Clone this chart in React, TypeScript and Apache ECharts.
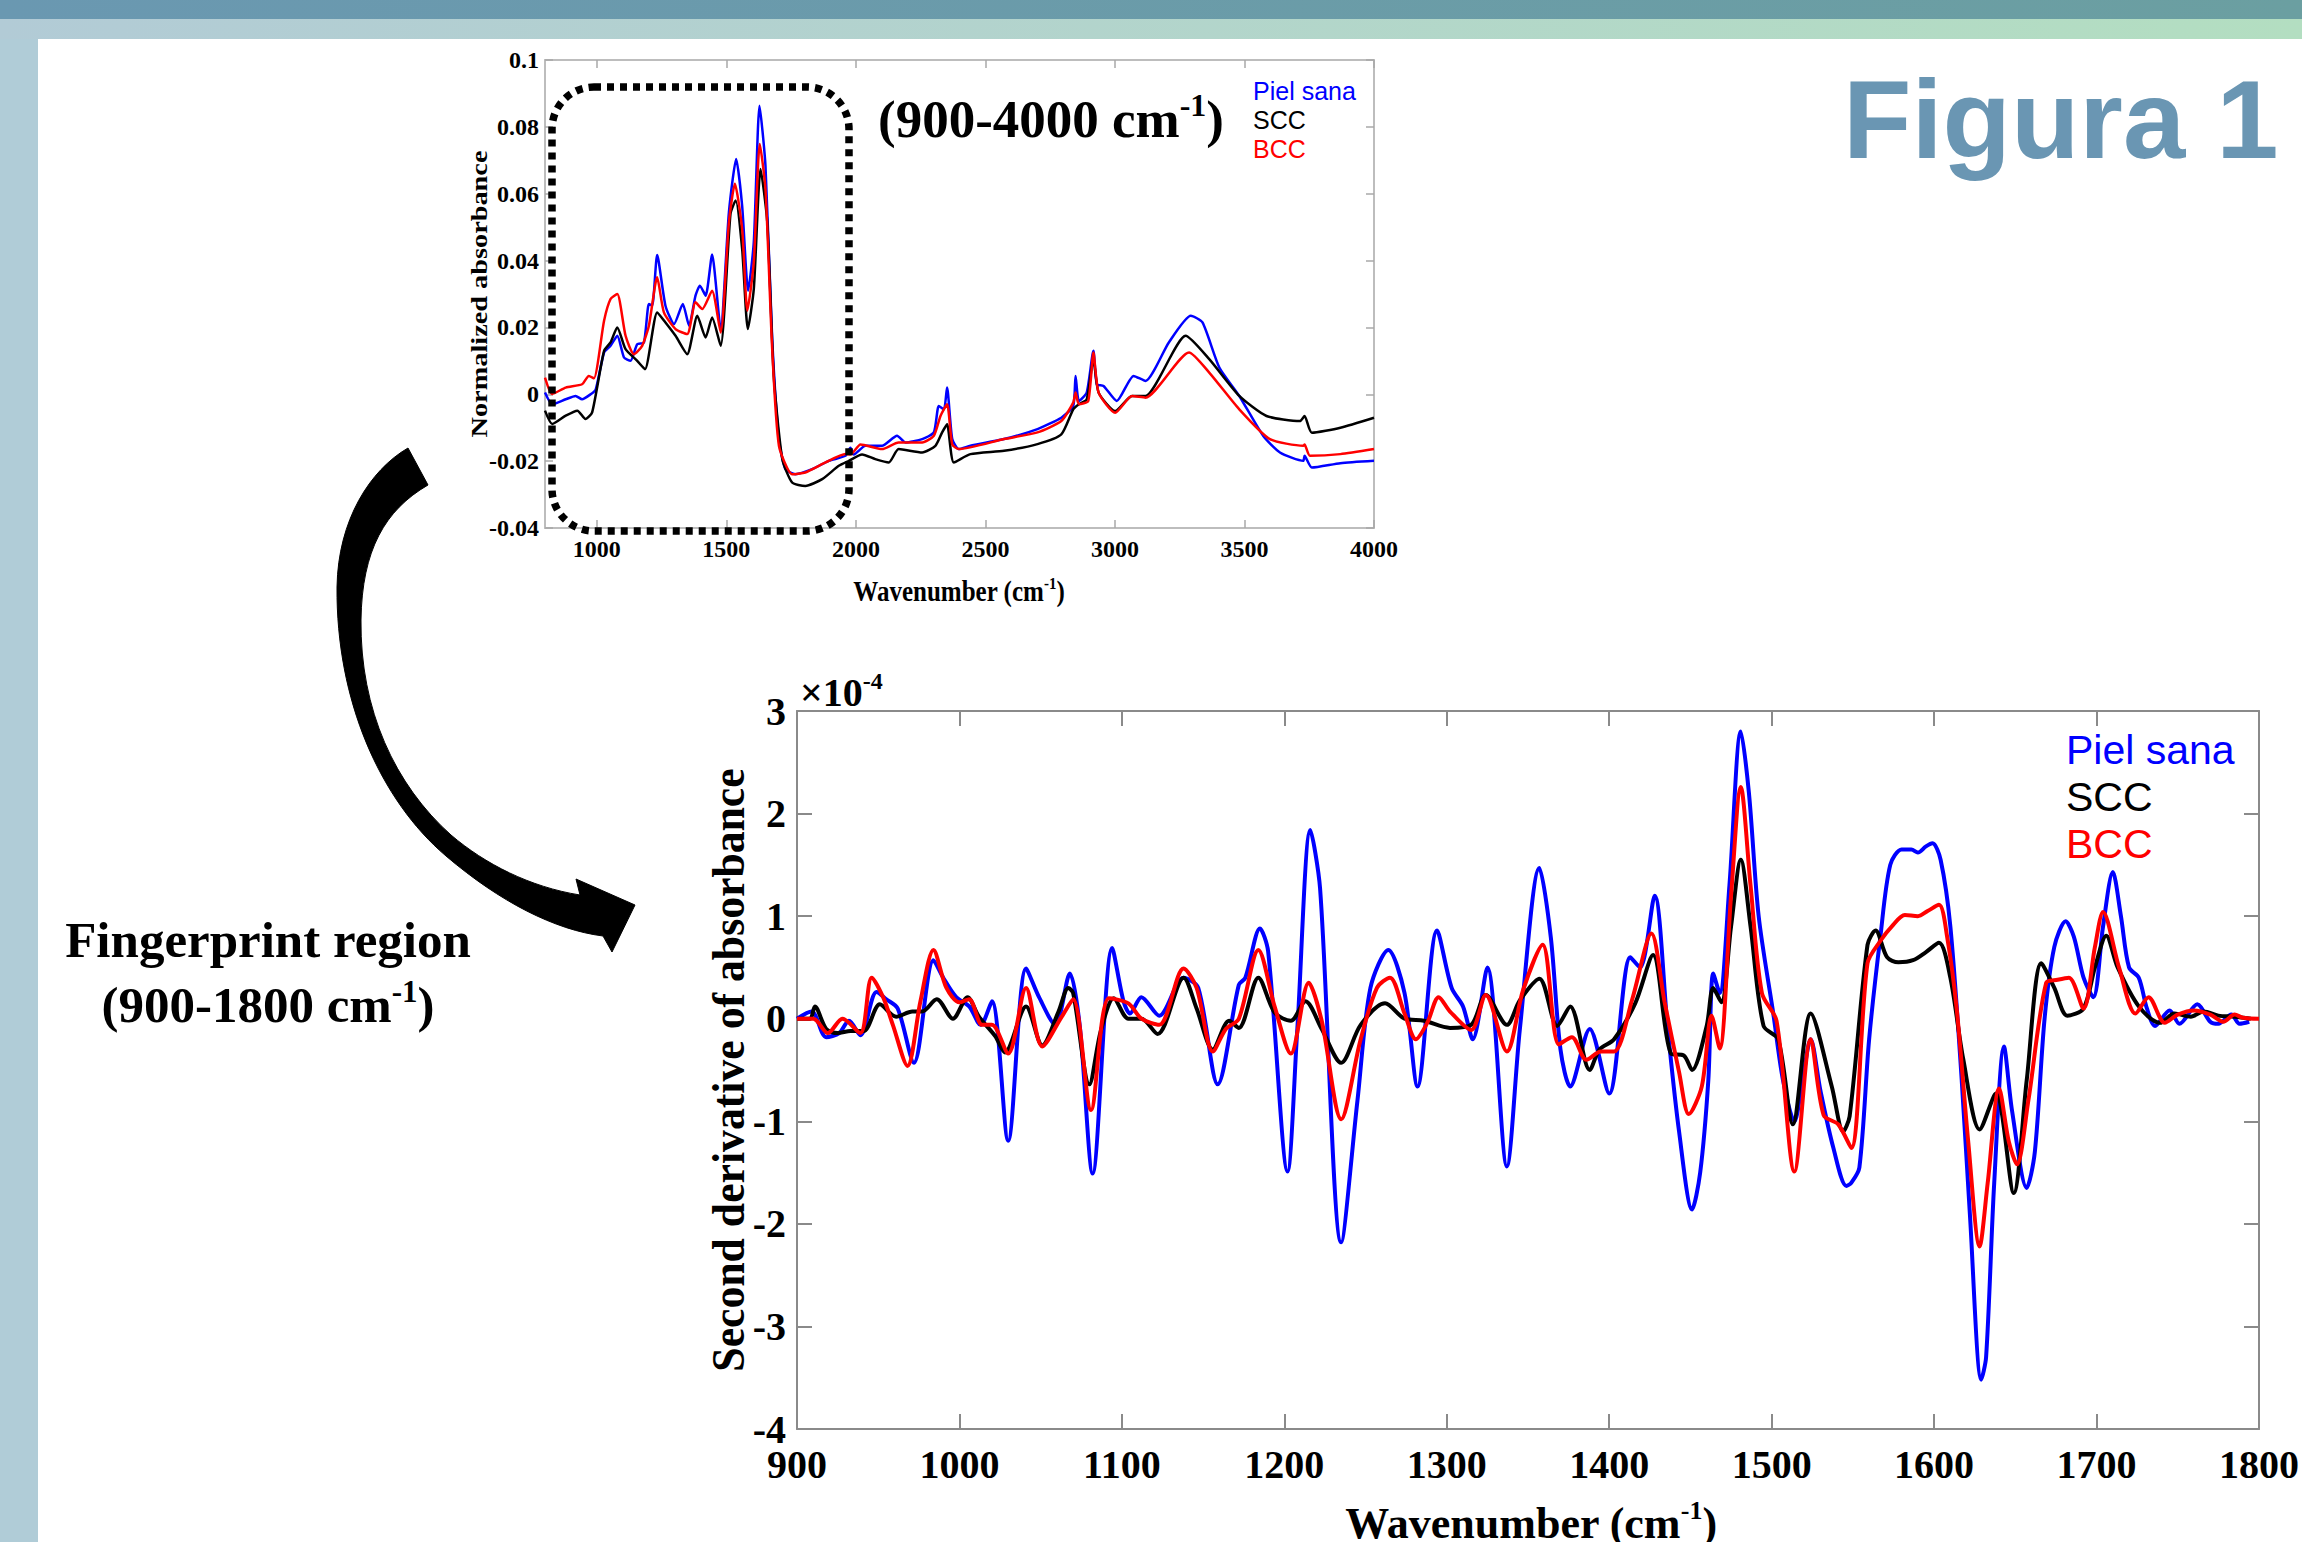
import React, { useEffect, useRef } from "react";
import * as echarts from "echarts";

const W = 2302;
const H = 1542;

// ---------- Data: full spectrum (900-4000 cm-1), normalized absorbance ----------
const fullPielSana = [
  [800, 0.0005], [828, -0.003], [880, -0.0015], [918, -0.0005], [943, -0.0015], [976, 0], [996, 0.0015],
  [1028, 0.0125], [1053, 0.0145], [1079, 0.0175], [1105, 0.011], [1130, 0.01], [1156, 0.015], [1182, 0.0155],
  [1201, 0.027], [1214, 0.0265], [1233, 0.0417], [1265, 0.0265], [1298, 0.021], [1332, 0.027], [1356, 0.0205],
  [1381, 0.0295], [1398, 0.0325], [1420, 0.0295], [1445, 0.0418], [1478, 0.0195], [1510, 0.0545], [1538, 0.0704],
  [1561, 0.0564], [1584, 0.031], [1606, 0.0455], [1628, 0.0863], [1651, 0.0684], [1677, 0.0165], [1703, -0.0134],
  [1728, -0.0224], [1767, -0.0239], [1831, -0.0224], [1896, -0.0199], [1960, -0.0184], [1979, -0.016], [1992, -0.018],
  [2037, -0.0154], [2101, -0.0154], [2159, -0.0124], [2191, -0.0144], [2256, -0.0134], [2301, -0.0114], [2320, -0.0035],
  [2340, -0.0045], [2352, 0.002], [2372, -0.0134], [2397, -0.0164], [2442, -0.0154], [2572, -0.0134], [2701, -0.0104],
  [2793, -0.007], [2839, -0.0035], [2848, 0.0055], [2861, -0.002], [2891, 0.0005], [2917, 0.013], [2930, 0.003],
  [2956, 0.0025], [3007, -0.002], [3072, 0.0055], [3118, 0.004], [3208, 0.0155], [3293, 0.0235], [3338, 0.0215],
  [3403, 0.008], [3480, -0.0005], [3572, -0.0124], [3637, -0.0174], [3727, -0.0199], [3732, -0.0184], [3760, -0.0219],
  [3870, -0.0206], [4000, -0.0199],
];
const fullSCC = [
  [800, -0.0049], [828, -0.0089], [880, -0.0064], [925, -0.0049], [956, -0.0074], [982, -0.0054], [1028, 0.013],
  [1053, 0.0155], [1079, 0.02], [1111, 0.0135], [1156, 0.01], [1186, 0.0075], [1233, 0.0245], [1265, 0.0215],
  [1304, 0.0175], [1349, 0.012], [1388, 0.0235], [1420, 0.017], [1445, 0.023], [1478, 0.0145], [1516, 0.054],
  [1536, 0.058], [1561, 0.0435], [1583, 0.0195], [1606, 0.0315], [1632, 0.0674], [1658, 0.0515], [1683, 0.0055],
  [1716, -0.0194], [1754, -0.0264], [1805, -0.0274], [1870, -0.0254], [1934, -0.0214], [1973, -0.0199], [2024, -0.018],
  [2075, -0.0194], [2127, -0.0204], [2165, -0.0164], [2256, -0.0174], [2307, -0.0154], [2333, -0.0114], [2352, -0.009],
  [2378, -0.0204], [2442, -0.0179], [2572, -0.0169], [2701, -0.0149], [2793, -0.012], [2839, -0.0045], [2861, -0.003],
  [2891, -0.0015], [2917, 0.0105], [2937, 0.0005], [3001, -0.005], [3066, -0.0005], [3118, -0.0005], [3273, 0.0175],
  [3364, 0.0105], [3480, -0.0005], [3585, -0.0065], [3714, -0.008], [3732, -0.0065], [3760, -0.0115], [3870, -0.01],
  [4000, -0.007],
];
const fullBCC = [
  [800, 0.005], [828, 0.0001], [880, 0.002], [943, 0.003], [969, 0.0055], [989, 0.0048], [1028, 0.022],
  [1053, 0.0285], [1079, 0.03], [1111, 0.0175], [1143, 0.012], [1175, 0.0145], [1201, 0.0205], [1233, 0.035],
  [1259, 0.0245], [1304, 0.0195], [1349, 0.018], [1381, 0.0275], [1407, 0.0255], [1445, 0.031], [1478, 0.0185],
  [1510, 0.0515], [1533, 0.063], [1561, 0.0495], [1581, 0.025], [1606, 0.0395], [1629, 0.0749], [1651, 0.0614],
  [1677, 0.0135], [1703, -0.0154], [1754, -0.0239], [1805, -0.0234], [1883, -0.0204], [1960, -0.0179], [1979, -0.018],
  [2018, -0.015], [2101, -0.0164], [2165, -0.0144], [2256, -0.0144], [2301, -0.0124], [2327, -0.0064], [2352, -0.003],
  [2372, -0.015], [2397, -0.0164], [2572, -0.0134], [2701, -0.0114], [2793, -0.008], [2839, -0.0025], [2848, 0.0005],
  [2861, -0.003], [2897, -0.002], [2917, 0.0125], [2937, 0.0005], [3001, -0.0055], [3066, -0.0005], [3118, -0.001],
  [3286, 0.0125], [3364, 0.0065], [3480, -0.0045], [3598, -0.0134], [3727, -0.0154], [3732, -0.015], [3753, -0.0184],
  [3870, -0.0179], [4000, -0.0164],
];
const fullXTicks = [1000, 1500, 2000, 2500, 3000, 3500, 4000];

// ---------- Data: fingerprint region second derivative (x 1e-4) ----------
const fpPielSana = [
  [900, 0], [909, 0.07], [918, -0.18], [926, -0.14], [932, -0.02], [939, -0.16], [949, 0.26], [955, 0.19], [962, 0.1],
  [972, -0.43], [984, 0.57], [990, 0.4], [998, 0.21], [1006, 0.12], [1013, -0.06], [1020, 0.17], [1030, -1.19],
  [1041, 0.49], [1049, 0.21], [1059, -0.06], [1068, 0.44], [1074, -0.06], [1082, -1.51], [1094, 0.69], [1101, 0.17],
  [1105, 0.05], [1112, 0.21], [1123, 0.03], [1138, 0.4], [1147, 0.3], [1159, -0.64], [1172, 0.33], [1176, 0.4],
  [1185, 0.88], [1190, 0.66], [1202, -1.49], [1208, -0.1], [1216, 1.84], [1222, 1.27], [1235, -2.18], [1245, -0.8],
  [1253, 0.3], [1264, 0.67], [1274, 0.25], [1282, -0.66], [1294, 0.86], [1303, 0.3], [1310, 0.12], [1316, -0.2],
  [1325, 0.5], [1337, -1.44], [1345, -0.1], [1357, 1.47], [1364, 0.8], [1370, -0.3], [1376, -0.66], [1388, -0.1],
  [1400, -0.73], [1413, 0.6], [1419, 0.5], [1428, 1.2], [1436, -0.1], [1443, -1.1], [1451, -1.86], [1456, -1.5],
  [1461, -0.6], [1464, 0.44], [1468, 0.25], [1474, 1.3], [1481, 2.8], [1486, 2.2], [1492, 1.0], [1501, 0.05],
  [1507, -0.6], [1514, -1.0], [1519, -0.6], [1524, -0.2], [1530, -0.7], [1538, -1.26], [1546, -1.63], [1549, -1.6],
  [1554, -1.45], [1560, -0.2], [1567, 0.81], [1573, 1.5], [1580, 1.65], [1586, 1.65], [1590, 1.62], [1595, 1.68],
  [1599, 1.71], [1604, 1.55], [1610, 0.9], [1617, -0.6], [1622, -1.9], [1629, -3.52], [1632, -3.3], [1637, -1.6],
  [1643, -0.27], [1648, -0.9], [1657, -1.65], [1662, -1.3], [1668, 0.0], [1674, 0.7], [1681, 0.95], [1686, 0.8],
  [1692, 0.4], [1698, 0.21], [1704, 0.9], [1710, 1.43], [1715, 1.0], [1720, 0.5], [1726, 0.4], [1731, 0.1],
  [1736, -0.07], [1745, 0.08], [1751, -0.05], [1762, 0.14], [1770, -0.03], [1775, -0.05], [1783, 0.04], [1788, -0.05],
  [1794, -0.03],
];
const fpSCC = [
  [900, 0], [908, 0], [911, 0.12], [918, -0.1], [925, -0.14], [933, -0.12], [941, -0.12], [951, 0.14], [961, 0.02],
  [971, 0.07], [977, 0.07], [986, 0.19], [996, 0], [1005, 0.21], [1012, 0.02], [1022, -0.17], [1028, -0.33],
  [1041, 0.12], [1051, -0.26], [1061, 0.07], [1067, 0.3], [1070, 0.25], [1080, -0.64], [1087, -0.12], [1095, 0.2],
  [1104, 0], [1112, 0], [1122, -0.15], [1138, 0.4], [1146, 0.1], [1156, -0.3], [1166, -0.02], [1172, -0.09],
  [1184, 0.4], [1194, 0.06], [1204, -0.02], [1213, 0.17], [1223, -0.1], [1235, -0.43], [1247, -0.06], [1262, 0.15],
  [1274, 0], [1286, -0.02], [1302, -0.09], [1315, -0.06], [1324, 0.23], [1337, -0.06], [1345, 0.18], [1357, 0.39],
  [1368, -0.07], [1376, 0.12], [1388, -0.5], [1394, -0.3], [1403, -0.2], [1416, 0.15], [1427, 0.62], [1438, -0.34],
  [1446, -0.36], [1451, -0.5], [1460, -0.07], [1464, 0.3], [1469, 0.16], [1475, 0.9], [1481, 1.55], [1487, 0.9],
  [1495, -0.07], [1504, -0.2], [1513, -1.03], [1524, 0.05], [1537, -0.66], [1544, -1.1], [1548, -0.95], [1559, 0.72],
  [1564, 0.86], [1571, 0.6], [1578, 0.55], [1587, 0.57], [1595, 0.65], [1603, 0.74], [1610, 0.4], [1618, -0.4],
  [1628, -1.08], [1638, -0.73], [1649, -1.7], [1657, -0.6], [1666, 0.54], [1674, 0.3], [1682, 0.03], [1692, 0.1],
  [1699, 0.5], [1706, 0.81], [1713, 0.5], [1726, 0.12], [1739, -0.04], [1748, 0.05], [1758, 0.02], [1766, 0.07],
  [1775, 0.03], [1785, 0.02], [1795, 0],
];
const fpBCC = [
  [900, 0], [910, 0], [919, -0.14], [928, 0], [939, -0.14], [946, 0.4], [953, 0.21], [959, -0.06], [968, -0.46],
  [976, 0.17], [984, 0.67], [992, 0.3], [1000, 0.16], [1006, 0.19], [1014, -0.06], [1020, -0.06], [1030, -0.34],
  [1041, 0.3], [1051, -0.27], [1063, 0.02], [1070, 0.19], [1081, -0.89], [1092, 0.2], [1104, 0.15], [1112, 0],
  [1123, -0.06], [1138, 0.49], [1146, 0.3], [1156, -0.32], [1164, -0.1], [1172, 0], [1184, 0.67], [1194, 0.12],
  [1204, -0.34], [1215, 0.35], [1223, -0.02], [1235, -0.98], [1247, -0.2], [1257, 0.3], [1265, 0.4], [1274, 0.05],
  [1281, -0.2], [1288, -0.04], [1295, 0.21], [1302, 0.07], [1315, -0.11], [1324, 0.23], [1337, -0.32], [1347, 0.28],
  [1359, 0.72], [1369, -0.25], [1377, -0.18], [1386, -0.4], [1395, -0.32], [1403, -0.32], [1414, 0.18], [1426, 0.83],
  [1434, 0.17], [1443, -0.52], [1449, -0.93], [1457, -0.66], [1463, 0.03], [1468, -0.29], [1475, 1.2], [1481, 2.26],
  [1487, 1.3], [1494, 0.25], [1503, -0.02], [1514, -1.49], [1524, -0.2], [1532, -0.94], [1541, -1.03], [1549, -1.26],
  [1559, 0.54], [1567, 0.76], [1574, 0.9], [1582, 1.01], [1590, 1.0], [1596, 1.05], [1603, 1.11], [1608, 0.8],
  [1614, 0.08], [1621, -1.2], [1628, -2.22], [1633, -1.6], [1640, -0.68], [1646, -1.2], [1651, -1.42], [1658, -0.8],
  [1669, 0.35], [1676, 0.38], [1683, 0.4], [1692, 0.1], [1699, 0.7], [1704, 1.04], [1714, 0.49], [1724, 0.05],
  [1732, 0.21], [1742, -0.04], [1750, 0.04], [1760, 0.08], [1770, 0.04], [1778, -0.03], [1785, 0.04], [1790, 0.01],
  [1800, 0],
];

const seriesNames = ["Piel sana", "SCC", "BCC"];
const seriesColors = ["#0000ff", "#000000", "#ff0000"];

const SERIF = "'Liberation Serif', 'Times New Roman', serif";
const SANS = "'Liberation Sans', Arial, sans-serif";

// Curved arrow outline (drawn as a registered path shape)
const arrowD =
  "M408 448 C370 470 338 520 337 587 C336 700 380 800 446 856 C500 902 555 930 603 936 " +
  "L612 952 L635 905 L576 879 L580 895 C530 887 485 864 451 835 C395 785 360 710 361 620 " +
  "C362 550 385 510 428 485 Z";
echarts.graphic.registerShape("fpArrow", echarts.graphic.extendPath(arrowD, {}));

function supRich(F: number) {
  return {
    b: { fontSize: F, fontWeight: "bold", fontFamily: SERIF, lineHeight: Math.round(F * 1.15), fill: "#000" },
    s: {
      fontSize: Math.round(F * 0.6),
      fontWeight: "bold",
      fontFamily: SERIF,
      verticalAlign: "top",
      lineHeight: Math.round(F * 0.7),
      fill: "#000",
    },
  };
}

const fmt = (v: number) => String(+Number(v).toFixed(4));

function makeOption() {
  const topAxisCommon = {
    gridIndex: 0,
    type: "value",
    min: 800,
    max: 4000,
    axisLine: { show: true, onZero: false, lineStyle: { color: "#bdbdbd", width: 2 } },
    axisTick: { show: true, inside: true, length: 8, customValues: fullXTicks, lineStyle: { color: "#a8a8a8", width: 1.5 } },
    splitLine: { show: false },
  };
  const topYCommon = {
    gridIndex: 0,
    type: "value",
    min: -0.04,
    max: 0.1,
    interval: 0.02,
    axisLine: { show: true, onZero: false, lineStyle: { color: "#bdbdbd", width: 2 } },
    axisTick: { show: true, inside: true, length: 8, lineStyle: { color: "#a8a8a8", width: 1.5 } },
    splitLine: { show: false },
  };
  const botXCommon = {
    gridIndex: 1,
    type: "value",
    min: 900,
    max: 1800,
    interval: 100,
    axisLine: { show: true, onZero: false, lineStyle: { color: "#8a8a8a", width: 2 } },
    axisTick: { show: true, inside: true, length: 15, lineStyle: { color: "#8a8a8a", width: 2 } },
    splitLine: { show: false },
  };
  const botYCommon = {
    gridIndex: 1,
    type: "value",
    min: -4,
    max: 3,
    interval: 1,
    axisLine: { show: true, onZero: false, lineStyle: { color: "#8a8a8a", width: 2 } },
    axisTick: { show: true, inside: true, length: 15, lineStyle: { color: "#8a8a8a", width: 2 } },
    splitLine: { show: false },
  };
  const lblTop = { color: "#000", fontFamily: SERIF, fontWeight: "bold", fontSize: 24, formatter: fmt };
  const lblBot = { color: "#000", fontFamily: SERIF, fontWeight: "bold", fontSize: 40, formatter: fmt };

  const topData = [fullPielSana, fullSCC, fullBCC];
  const botData = [fpPielSana, fpSCC, fpBCC];

  const series: any[] = [];
  topData.forEach((d, i) => {
    series.push({
      name: seriesNames[i] + " (full)",
      type: "line",
      xAxisIndex: 0,
      yAxisIndex: 0,
      data: d,
      showSymbol: false,
      symbol: "none",
      smooth: 0.2,
      lineStyle: { color: seriesColors[i], width: 2.5 },
      z: 3,
    });
  });
  botData.forEach((d, i) => {
    series.push({
      name: seriesNames[i],
      type: "line",
      xAxisIndex: 2,
      yAxisIndex: 2,
      data: d,
      showSymbol: false,
      symbol: "none",
      smooth: 0.3,
      lineStyle: { color: seriesColors[i], width: 4 },
      z: 3,
    });
  });

  const graphic: any[] = [
    // header bars and side strip
    {
      type: "rect",
      shape: { x: 0, y: 0, width: W, height: 19 },
      style: {
        fill: new echarts.graphic.LinearGradient(0, 0, 1, 0, [
          { offset: 0, color: "#6a98b1" },
          { offset: 1, color: "#6b9fa1" },
        ]),
      },
      z: 0,
    },
    {
      type: "rect",
      shape: { x: 0, y: 19, width: W, height: 20 },
      style: {
        fill: new echarts.graphic.LinearGradient(0, 0, 1, 0, [
          { offset: 0, color: "#b2cbd6" },
          { offset: 1, color: "#b3dec1" },
        ]),
      },
      z: 0,
    },
    { type: "rect", shape: { x: 0, y: 39, width: 38, height: H - 39 }, style: { fill: "#b0ccd7" }, z: 0 },
    // Title
    {
      type: "text",
      x: 1843,
      y: 119,
      style: {
        text: "Figura 1",
        fontFamily: SANS,
        fontWeight: "bold",
        fontSize: 112,
        fill: "#6a96b3",
        align: "left",
        verticalAlign: "middle",
      },
      z: 5,
    },
    // dotted rounded box
    {
      type: "rect",
      shape: { x: 552, y: 87, width: 297, height: 444, r: 42 },
      style: { fill: null, stroke: "#000", lineWidth: 7.5, lineDash: [7, 6] },
      z: 10,
    },
    // range label in top chart
    {
      type: "text",
      x: 1051,
      y: 119,
      style: {
        text: "{b|(900-4000 cm}{s|-1}{b|)}",
        rich: supRich(53),
        align: "center",
        verticalAlign: "middle",
      },
      z: 6,
    },
    // top y title
    {
      type: "text",
      x: 479,
      y: 294,
      rotation: Math.PI / 2,
      scaleX: 1.18,
      style: {
        text: "Normalized absorbance",
        fontFamily: SERIF,
        fontWeight: "bold",
        fontSize: 24,
        fill: "#000",
        align: "center",
        verticalAlign: "middle",
      },
    },
    // top x title
    {
      type: "text",
      x: 959,
      y: 591,
      scaleY: 1.15,
      style: {
        text: "{b|Wavenumber (cm}{s|-1}{b|)}",
        rich: supRich(25),
        align: "center",
        verticalAlign: "middle",
      },
    },
    // arrow
    { type: "fpArrow", x: 0, y: 0, scaleX: 1, scaleY: 1, style: { fill: "#000", stroke: "#000", lineWidth: 1 }, z: 5 },
    // fingerprint caption
    {
      type: "text",
      x: 268,
      y: 940,
      style: {
        text: "Fingerprint region",
        fontFamily: SERIF,
        fontWeight: "bold",
        fontSize: 51,
        fill: "#000",
        align: "center",
        verticalAlign: "middle",
      },
    },
    {
      type: "text",
      x: 268,
      y: 1005,
      style: {
        text: "{b|(900-1800 cm}{s|-1}{b|)}",
        rich: supRich(51),
        align: "center",
        verticalAlign: "middle",
      },
    },
    // x10^-4 exponent label
    {
      type: "text",
      x: 800,
      y: 692,
      style: {
        text: "{b|×10}{s|-4}",
        rich: supRich(40),
        align: "left",
        verticalAlign: "middle",
      },
    },
    // bottom y title
    {
      type: "text",
      x: 728,
      y: 1070,
      rotation: Math.PI / 2,
      scaleX: 0.93,
      style: {
        text: "Second derivative of absorbance",
        fontFamily: SERIF,
        fontWeight: "bold",
        fontSize: 47,
        fill: "#000",
        align: "center",
        verticalAlign: "middle",
      },
    },
    // bottom x title
    {
      type: "text",
      x: 1531,
      y: 1523,
      style: {
        text: "{b|Wavenumber (cm}{s|-1}{b|)}",
        rich: supRich(44),
        align: "center",
        verticalAlign: "middle",
      },
    },
  ];

  const topLegendY = [91, 120, 149];
  const botLegendY = [750, 797, 844];
  seriesNames.forEach((n, i) => {
    graphic.push({
      type: "text",
      x: 1253,
      y: topLegendY[i],
      style: { text: n, fontFamily: SANS, fontSize: 25, fill: seriesColors[i], align: "left", verticalAlign: "middle" },
      z: 6,
    });
    graphic.push({
      type: "text",
      x: 2066,
      y: botLegendY[i],
      style: { text: n, fontFamily: SANS, fontSize: 41, fill: seriesColors[i], align: "left", verticalAlign: "middle" },
      z: 6,
    });
  });

  return {
    animation: false,
    backgroundColor: "#ffffff",
    grid: [
      { left: 545, top: 60, width: 829, height: 468 },
      { left: 797, top: 711, width: 1468, height: 718 },
    ],
    xAxis: [
      { ...topAxisCommon, position: "bottom", axisLabel: { ...lblTop, customValues: fullXTicks, margin: 9 } },
      { ...topAxisCommon, position: "top", axisLabel: { show: false } },
      { ...botXCommon, position: "bottom", axisLabel: { ...lblBot, margin: 15 } },
      { ...botXCommon, position: "top", axisLabel: { show: false } },
    ],
    yAxis: [
      { ...topYCommon, position: "left", axisLabel: { ...lblTop, margin: 6 } },
      { ...topYCommon, position: "right", axisLabel: { show: false } },
      { ...botYCommon, position: "left", axisLabel: { ...lblBot, margin: 11 } },
      { ...botYCommon, position: "right", axisLabel: { show: false } },
    ],
    series,
    graphic,
  };
}

export default function App() {
  const ref = useRef<HTMLDivElement>(null);
  useEffect(() => {
    if (!ref.current) return;
    const chart = echarts.init(ref.current, undefined, { renderer: "svg" });
    chart.setOption(makeOption() as any);
    return () => chart.dispose();
  }, []);
  return (
    <div
      ref={ref}
      style={{ position: "absolute", left: 0, top: 0, width: W, height: H, background: "#fff" }}
    />
  );
}
